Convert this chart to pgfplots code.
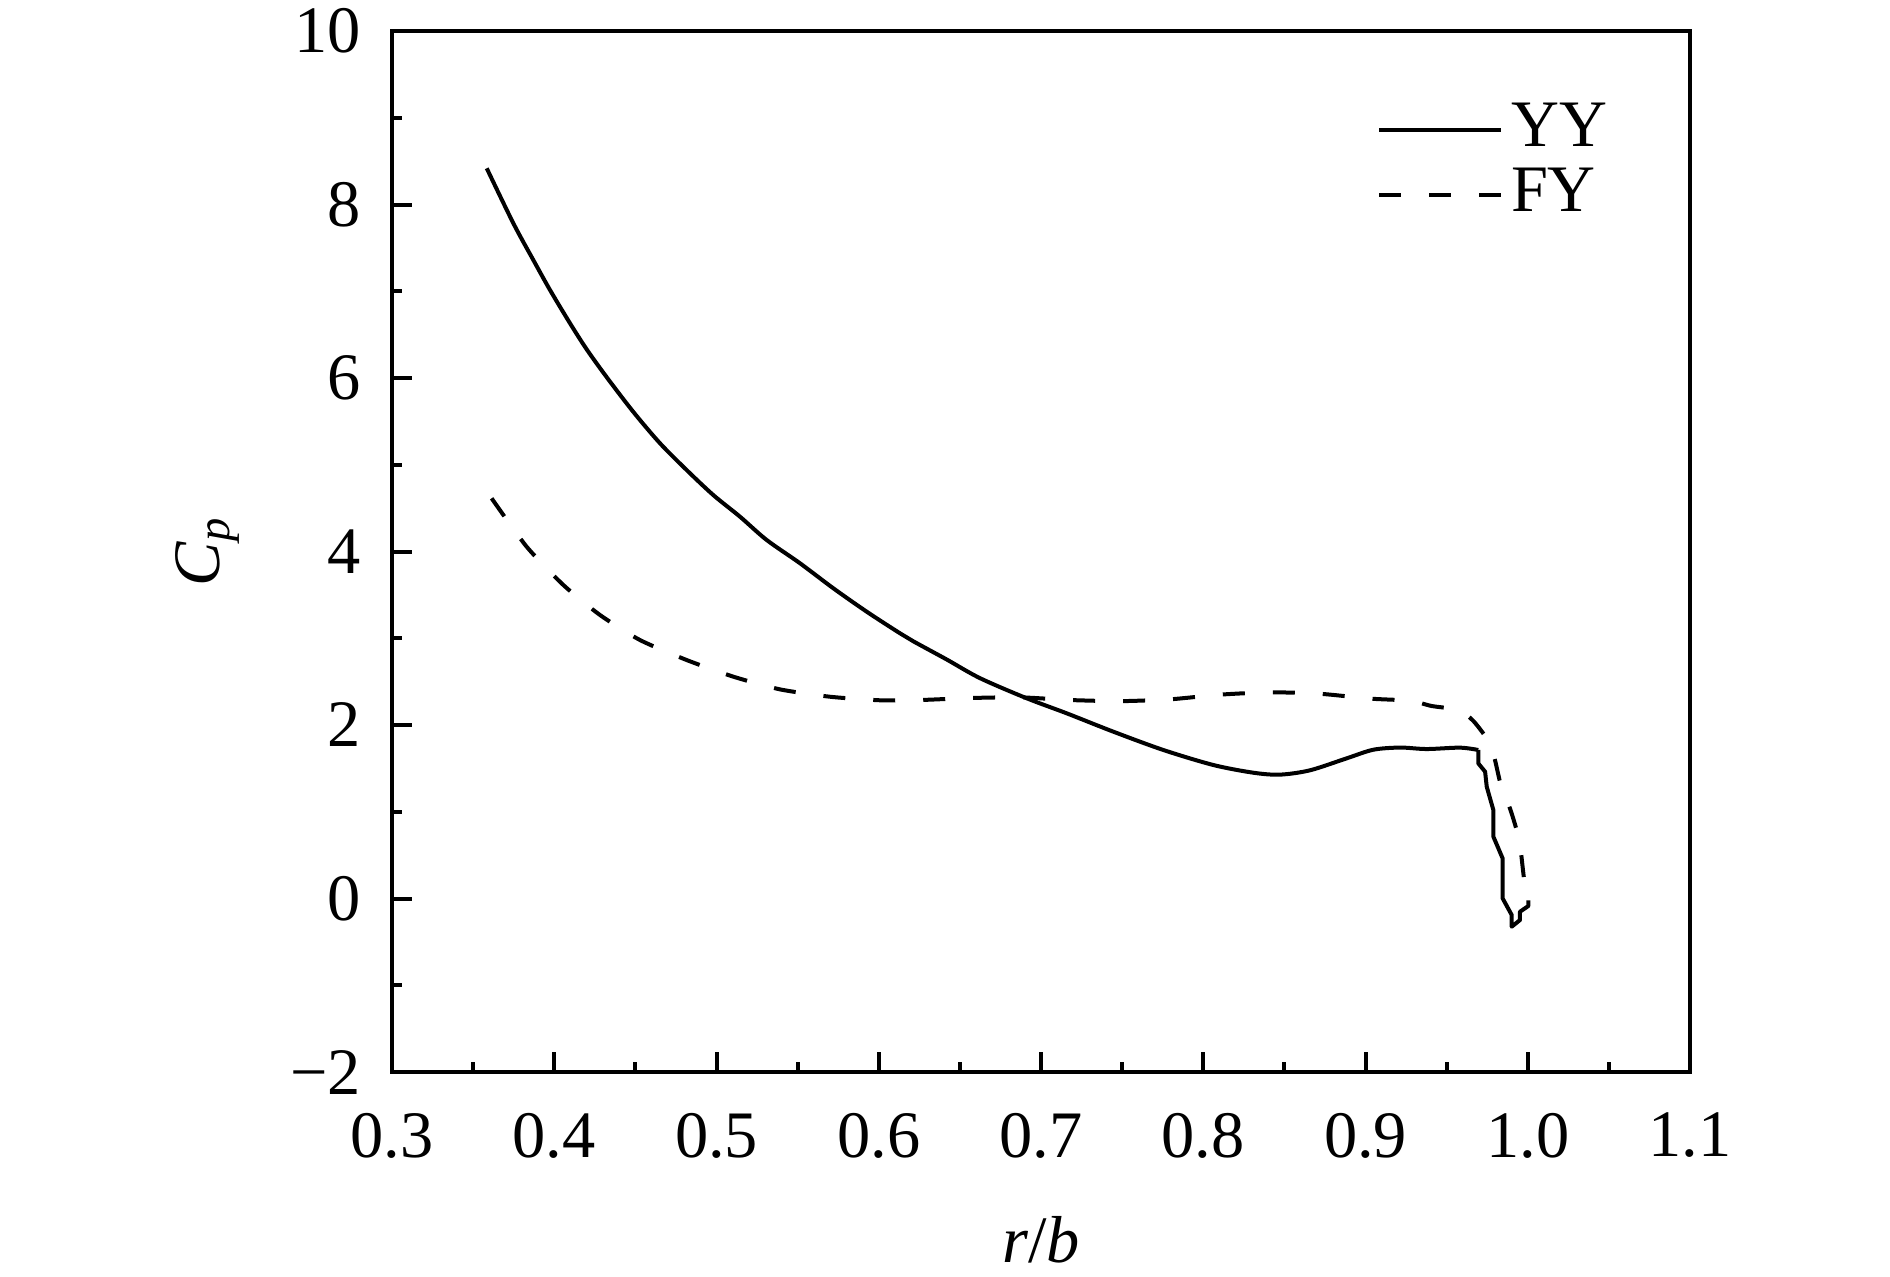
\documentclass[border=0pt]{standalone}
\usepackage{fontspec}
\setmainfont{Liberation Serif}
\usepackage{pgfplots}
\pgfplotsset{compat=1.18}
\newcommand{\ff}{\fontsize{16.6}{20}\selectfont}
\begin{document}
\ff
\begin{tikzpicture}
\useasboundingbox (-98pt,-51pt) rectangle (374.5pt,268pt);
\begin{axis}[
  scale only axis, width=324.5pt, height=260.25pt,
  xmin=0.3, xmax=1.1, ymin=-2, ymax=10,
  xtick={0.3,0.4,0.5,0.6,0.7,0.8,0.9,1.0,1.1},
  xticklabels={0.3,0.4,0.5,0.6,0.7,0.8,0.9,1.0,1.1},
  ytick={-2,0,2,4,6,8,10},
  yticklabels={−2,0,2,4,6,8,10},
  minor x tick num=1, minor y tick num=1,
  tick pos=left, tick align=inside,
  major tick length=5pt, minor tick length=2.5pt,
  every tick/.append style={black, line width=1pt},
  axis line style={line width=1pt},
  tick label style={font=\ff},
  xticklabel style={yshift=-4.5pt},
  yticklabel style={xshift=-2pt},
  xlabel={\textit{r}/\textit{b}},
  ylabel={\textit{C}\textsubscript{\textit{p}}},
  xlabel style={font=\ff, at={(axis description cs:0.5,0)}, anchor=center, yshift=-42pt},
  ylabel style={font=\ff, at={(axis description cs:-0.142,0.5)}, anchor=center},
  legend style={font=\ff, draw=none, fill=none, inner sep=0pt, outer sep=0pt,
    at={(axis description cs:0.7589,0.9308)}, anchor=north west,
    row sep=3pt, column sep=2pt, nodes={inner sep=0pt, outer sep=0pt}},
  legend cell align=left,
  legend image code/.code={\draw[#1] (0pt,0pt) -- (30.5pt,0pt);},
]
\addplot[black, line width=1pt, smooth, tension=0.5] coordinates {
(0.3584,8.417) (0.3748,7.783) (0.3871,7.360) (0.3974,7.014) (0.4097,6.631)
(0.4200,6.330) (0.4323,6.010) (0.4487,5.610) (0.4652,5.247) (0.4816,4.939)
(0.4980,4.651) (0.5145,4.401) (0.5309,4.133) (0.5515,3.864) (0.5720,3.576)
(0.5926,3.306) (0.6131,3.057) (0.6213,2.965) (0.6419,2.755) (0.6624,2.540)
(0.6912,2.308) (0.7158,2.135) (0.7446,1.923) (0.7754,1.712) (0.8062,1.539)
(0.8309,1.450) (0.8473,1.428) (0.8658,1.478) (0.8884,1.616) (0.9048,1.715)
(0.9213,1.740) (0.9377,1.723) (0.9582,1.739) (0.9695,1.712)
};
\addlegendentry{YY}
\addplot[black, line width=1pt, line join=round, forget plot] coordinates {
(0.9695,1.712) (0.9695,1.558)
(0.9737,1.462) (0.9747,1.289) (0.9788,1.020) (0.9788,0.713) (0.9845,0.463)
(0.9845,0.002) (0.9901,-0.190) (0.9901,-0.325) (0.9952,-0.248) (0.9952,-0.152)
(1.0003,-0.087) (1.0003,-0.02)
};
\addplot[black, line width=1pt, dash pattern=on 5.5pt off 7pt, smooth, tension=0.4] coordinates {
(0.3614,4.613) (0.3830,4.055) (0.4056,3.614) (0.4282,3.268) (0.4528,2.980)
(0.4816,2.749) (0.5104,2.557) (0.5391,2.411) (0.5699,2.326) (0.6008,2.285)
(0.6254,2.288) (0.6562,2.311) (0.6871,2.319) (0.7179,2.288) (0.7487,2.275)
(0.7795,2.296) (0.8103,2.350) (0.8412,2.377) (0.8720,2.360) (0.9028,2.304)
(0.9274,2.280) (0.9408,2.219) (0.9572,2.173) (0.9665,2.046) (0.9768,1.789)
(0.9798,1.596) (0.9839,1.270) (0.9890,1.040) (0.9931,0.790) (0.9956,0.559)
(0.9978,0.213) (1.0003,-0.017)
};
\addlegendentry{FY}
\end{axis}
\end{tikzpicture}
\end{document}
